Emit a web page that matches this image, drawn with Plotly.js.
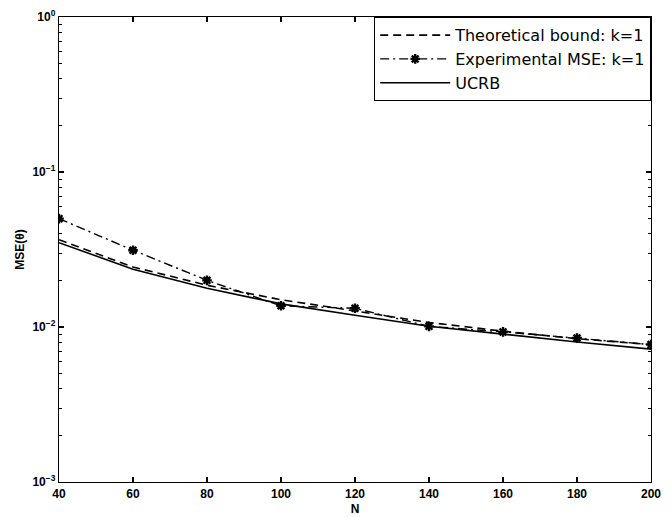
<!DOCTYPE html>
<html>
<head>
<meta charset="utf-8">
<script src="https://cdn.plot.ly/plotly-3.0.1.min.js"></script>
<style>html,body{margin:0;padding:0;background:#fff}#chart{width:672px;height:517px}</style>
</head>
<body>
<div id="chart"></div>
<script>
const N = [40, 60, 80, 100, 120, 140, 160, 180, 200];
const theoreticalBound = [0.0366, 0.0244, 0.0186, 0.0150, 0.0127, 0.0107, 0.0094, 0.0084, 0.0077];
const experimentalMSE = [0.0500, 0.0313, 0.0200, 0.0137, 0.0132, 0.0101, 0.0093, 0.0085, 0.0077];
const ucrb = [0.0350, 0.0236, 0.0178, 0.0141, 0.0119, 0.0101, 0.0090, 0.0080, 0.0072];
const seriesNames = ['Theoretical bound: k=1', 'Experimental MSE: k=1', 'UCRB'];
const xTicks = [40, 60, 80, 100, 120, 140, 160, 180, 200];
const yTickVals = [0.001, 0.01, 0.1, 1];
const yTickText = ['10<sup>−3</sup>', '10<sup>−2</sup>', '10<sup>−1</sup>', '10<sup>0</sup>'];

const font = 'Arial, "Liberation Sans", Helvetica, sans-serif';
const legendFont = '"DejaVu Sans", Arial, sans-serif';

const traces = [
  {x: N, y: theoreticalBound, name: seriesNames[0], mode: 'lines',
   line: {color: '#000', width: 1.6, dash: '8px,5px'}},
  {x: N, y: experimentalMSE, name: seriesNames[1], mode: 'lines+markers',
   line: {color: '#000', width: 1.4, dash: '9px,4px,2px,4px'},
   marker: {symbol: 'asterisk-open', size: 8, color: '#000', line: {color: '#000', width: 2.4}}},
  {x: N, y: ucrb, name: seriesNames[2], mode: 'lines',
   line: {color: '#000', width: 1.6}}
];

const axisCommon = {
  showgrid: false, zeroline: false, showline: true, linecolor: '#000', linewidth: 1.3,
  mirror: 'allticks', ticks: 'inside', ticklen: 5, tickcolor: '#000', tickwidth: 1.2,
  tickfont: {family: font, size: 12, color: '#000', weight: 'bold'}
};

const layout = {
  width: 672, height: 517,
  margin: {l: 59, r: 21, t: 17, b: 35},
  paper_bgcolor: '#fff', plot_bgcolor: '#fff',
  showlegend: true,
  legend: {x: 1, y: 1, xanchor: 'right', yanchor: 'top', bgcolor: '#fff',
           bordercolor: '#000', borderwidth: 1.2, itemwidth: 70,
           font: {family: legendFont, size: 16, color: '#000'}, tracegroupgap: 0},
  xaxis: Object.assign({}, axisCommon, {
    range: [40, 200], tickvals: xTicks, ticktext: xTicks.map(String),
    title: {text: 'N', font: {family: font, size: 12, color: '#000', weight: 'bold'}, standoff: 5}
  }),
  yaxis: Object.assign({}, axisCommon, {
    type: 'log', range: [-3, 0], tickvals: yTickVals, ticktext: yTickText,
    minor: {ticks: 'inside', ticklen: 3, tickcolor: '#000', tickwidth: 1, dtick: 'D1'},
    title: {text: 'MSE(θ)', font: {family: font, size: 12, color: '#000', weight: 'bold'}, standoff: 5}
  })
};

Plotly.newPlot('chart', traces, layout, {displayModeBar: false, staticPlot: true});
</script>
</body>
</html>
